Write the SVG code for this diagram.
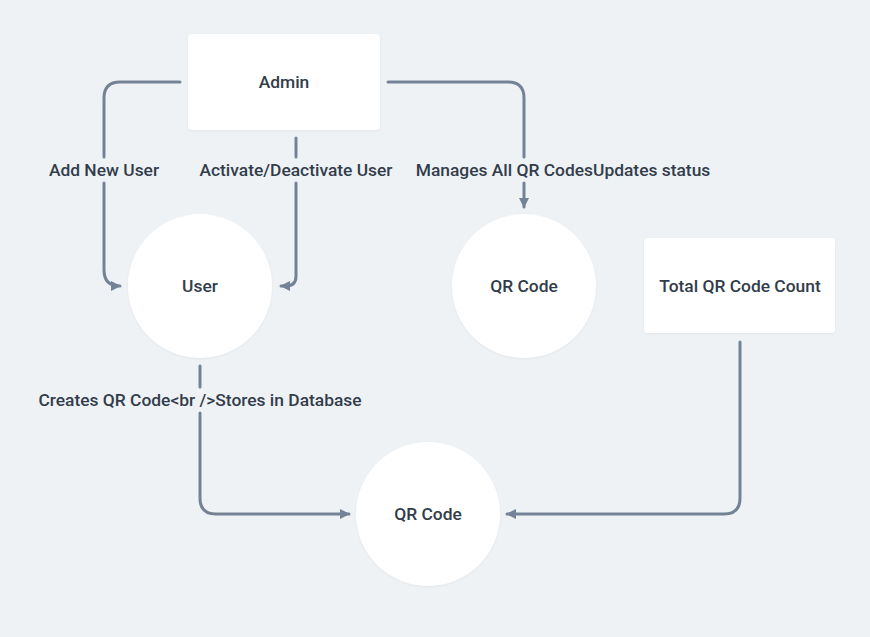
<svg xmlns="http://www.w3.org/2000/svg" width="870" height="637" viewBox="0 0 870 637">
<defs>
<style>
.bg{fill:#eff2f5}
.node{fill:#ffffff}
.lbl{font-family:Roboto,"Liberation Sans",sans-serif;font-size:17.4px;font-weight:500;fill:#323d4b;text-anchor:middle;dominant-baseline:central}
.edge{fill:none;stroke:#738395;stroke-width:3;stroke-linecap:round;stroke-linejoin:round}
</style>
<marker id="arr" viewBox="0 0 10 10" refX="9" refY="5" markerWidth="10" markerHeight="10" markerUnits="userSpaceOnUse" orient="auto">
<path d="M0,0 L10,5 L0,10 Z" fill="#738395"/>
</marker>
<filter id="sh" x="-10%" y="-10%" width="120%" height="120%">
<feDropShadow dx="0" dy="1" stdDeviation="1" flood-color="#000" flood-opacity="0.05"/>
</filter>
</defs>
<rect class="bg" x="0" y="0" width="870" height="637"/>
<g id="connectors">
<path class="edge" d="M180,82 H120 Q104,82 104,98 V157"/>
<path class="edge" d="M104,183 V270 Q104,286 120,286" marker-end="url(#arr)"/>
<text class="lbl" x="104" y="170">Add New User</text>
<path class="edge" d="M296,138 V157"/>
<path class="edge" d="M296,183 V276 Q296,286 286,286 H281" marker-end="url(#arr)"/>
<text class="lbl" x="296" y="170">Activate/Deactivate User</text>
<path class="edge" d="M388,82 H508 Q524,82 524,98 V157"/>
<path class="edge" d="M524,183 V207" marker-end="url(#arr)"/>
<text class="lbl" x="563" y="170">Manages All QR CodesUpdates status</text>
<path class="edge" d="M200,366 V387"/>
<path class="edge" d="M200,413 V498 Q200,514 216,514 H349" marker-end="url(#arr)"/>
<text class="lbl" x="200" y="400">Creates QR Code&lt;br /&gt;Stores in Database</text>
<path class="edge" d="M740,342 V498 Q740,514 724,514 H507" marker-end="url(#arr)"/>
</g>
<g id="admin">
<rect class="node" x="188" y="34" width="192" height="96" rx="4" filter="url(#sh)"/>
<text class="lbl" x="284" y="82">Admin</text>
</g>
<g id="user">
<circle class="node" cx="200" cy="286" r="72" filter="url(#sh)"/>
<text class="lbl" x="200" y="286">User</text>
</g>
<g id="qrcode1">
<circle class="node" cx="524" cy="286" r="72" filter="url(#sh)"/>
<text class="lbl" x="524" y="286">QR Code</text>
</g>
<g id="total">
<rect class="node" x="644" y="238" width="191" height="95" rx="4" filter="url(#sh)"/>
<text class="lbl" x="740" y="286">Total QR Code Count</text>
</g>
<g id="qrcode2">
<circle class="node" cx="428" cy="514" r="72" filter="url(#sh)"/>
<text class="lbl" x="428" y="514">QR Code</text>
</g>
</svg>
